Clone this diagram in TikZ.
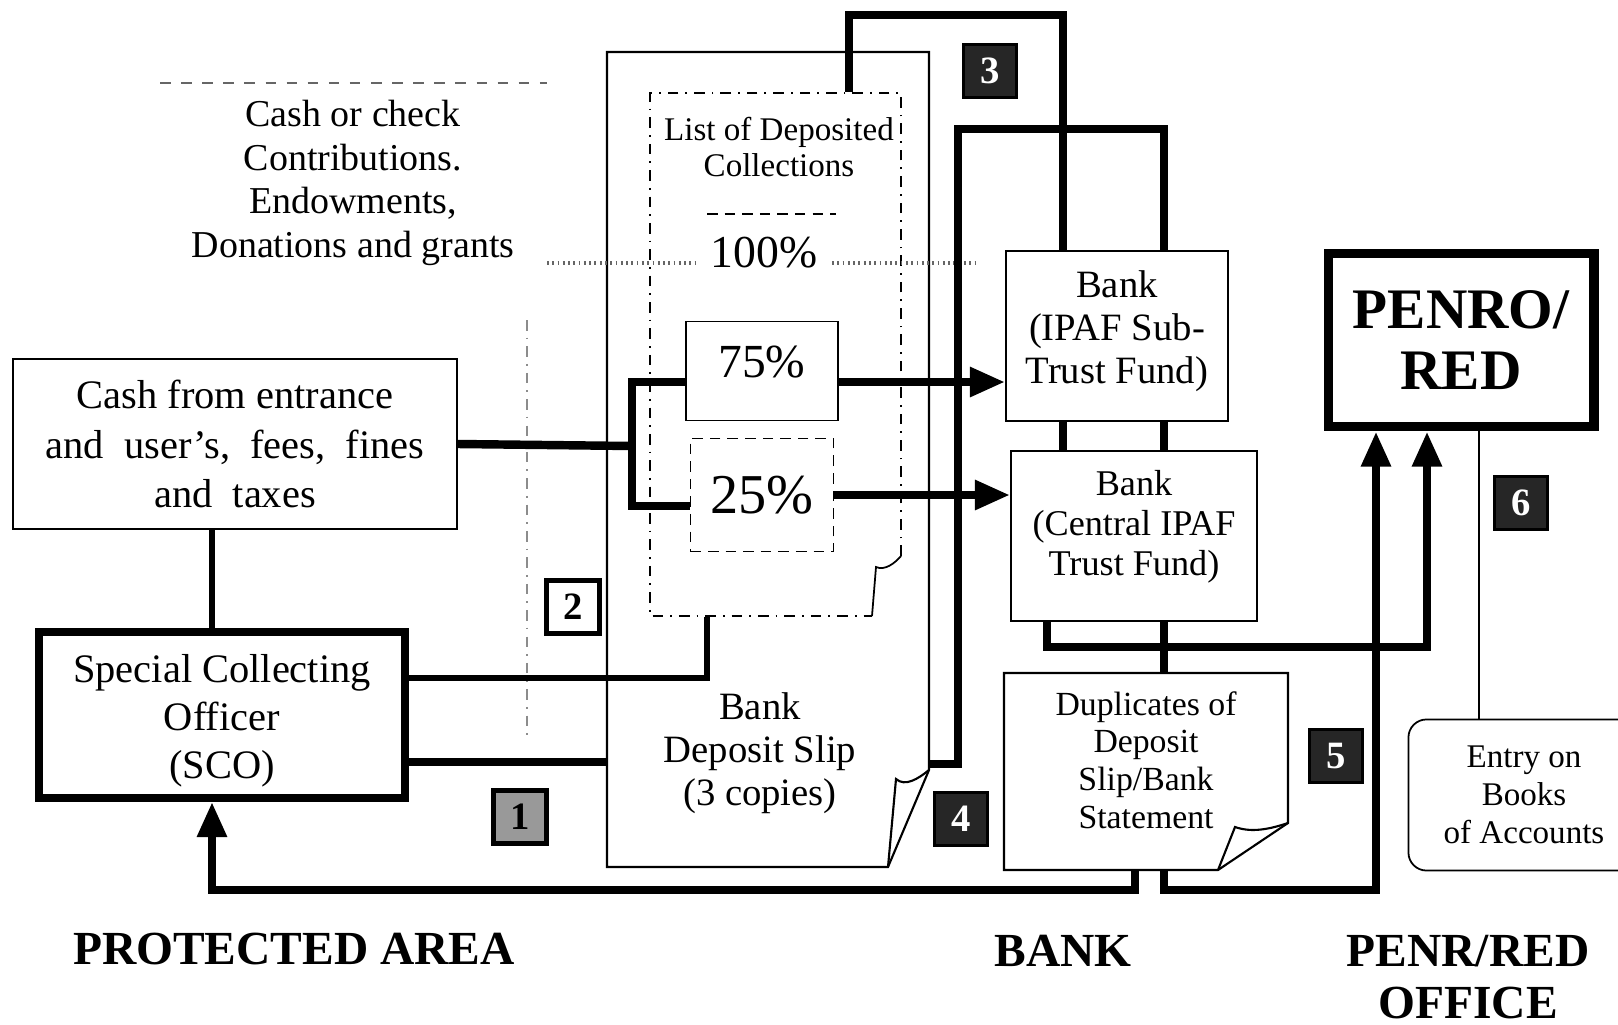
\documentclass[tikz,border=0pt]{standalone}
\usepackage{fontspec}
\setmainfont{Liberation Serif}
\usetikzlibrary{arrows.meta,positioning,calc}

\newcommand{\fsz}[2]{\fontsize{#1}{#2}\selectfont}

\begin{document}
\begin{tikzpicture}[x=0.01cm,y=-0.01cm,
    every node/.style={font=\fsz{11.5}{14}, align=center, inner sep=0pt},
    box/.style={draw, line width=0.5pt},
    heavybox/.style={draw, line width=2.2pt},
    flow/.style={line width=2.4pt},
    midflow/.style={line width=1.6pt},
    flowarrow/.style={flow, -{Triangle[length=10pt,width=8pt]}},
    tracer/.style={black!60, line width=0.5pt},
    badge/.style={draw, line width=1pt, fill=black!85, text=white, minimum size=0.53cm, font=\bfseries\fsz{11}{12}},
    lightbadge/.style={badge, fill=white, text=black, line width=1.4pt},
    midbadge/.style={badge, fill=black!40, text=black, line width=1.4pt},
    caption/.style={font=\bfseries\fsz{13.5}{14.8}}]
    \useasboundingbox (0,0) rectangle (1618,1024);
    \fill[white] (0,0) rectangle (1618,1024);

    \node[font=\fsz{10.8}{12.4}] (donor) at (353,183) {Cash or check\\Contributions.\\Endowments,\\Donations and grants};
    \node[box, minimum width=4.44cm, minimum height=1.70cm] (cash) at (235,444) {Cash from entrance\\and\ \ user's,\ \ fees,\ \ fines\\and\ \ taxes};
    \node[heavybox, minimum width=3.66cm, minimum height=1.66cm] (sco) at (222,715) {};
    \node[font=\fsz{11.5}{13.7}] (scotxt) at (222,721) {Special Collecting\\Officer\\(SCO)};

    \node[minimum width=3.22cm, minimum height=8.15cm] (slip) at (768,459.5) {};
    \node[font=\fsz{11}{12.3}] (sliptxt) at (760,753) {Bank\\Deposit Slip\\(3 copies)};
    \node[minimum width=2.51cm, minimum height=5.23cm] (list) at (775.5,354.5) {};
    \node[font=\fsz{9.4}{10.3}] (listtxt) at (779,147) {List of Deposited\\Collections};
    \node[font=\fsz{13}{14}, inner xsep=4pt] (p100) at (764,253) {100\%};
    \node[box, minimum width=1.52cm, minimum height=0.99cm, font=\fsz{13.5}{14}] (p75) at (762,371) {};
    \node[font=\fsz{13.5}{14}] (p75txt) at (762,362) {75\%};
    \node[box, densely dashed, minimum width=1.43cm, minimum height=1.13cm, font=\fsz{16}{17}] (p25) at (762,495) {25\%};

    \node[box, minimum width=2.22cm, minimum height=1.70cm] (bankSub) at (1117,336) {};
    \node[font=\fsz{11}{12.3}] (bankSubtxt) at (1117,331) {Bank\\(IPAF Sub-\\Trust Fund)};
    \node[box, minimum width=2.46cm, minimum height=1.70cm] (bankCen) at (1134,536) {};
    \node[font=\fsz{10.3}{11.4}] (bankCentxt) at (1134,527) {Bank\\(Central IPAF\\Trust Fund)};
    \node[minimum width=2.86cm, minimum height=1.95cm] (dup) at (1146,771) {};
    \node[font=\fsz{9.6}{10.7}] (duptxt) at (1146,760) {Duplicates of\\Deposit\\Slip/Bank\\Statement};

    \node[draw, line width=2.8pt, minimum width=2.65cm, minimum height=1.73cm, font=\bfseries\fsz{16.3}{17.5}] (penro) at (1461,340) {PENRO/\\RED};
    \node[box, rounded corners=0.18cm, minimum width=2.31cm, minimum height=1.51cm, font=\fsz{9.4}{10.8}] (entry) at (1524,795) {Entry on\\Books\\of Accounts};

    \node[caption] (lblArea) at (294,949) {PROTECTED AREA};
    \node[caption] (lblBank) at (1063,951) {BANK};
    \node[caption] (lblOffice) at (1468,977) {PENR/RED\\OFFICE};

    \draw[line width=0.6pt] (929,770) -- (929,52) -- (607,52) -- (607,867) -- (888,867) -- cycle;
    \draw[line width=0.6pt] (888,867) -- (896,779) .. controls (905,787) and (918,779) .. (929,770);
    \draw[line width=0.5pt, dash dot] (901,556) -- (901,93) -- (650,93) -- (650,616) -- (872,616);
    \draw[line width=0.5pt] (872,616) -- (876,567) .. controls (885,571) and (895,563) .. (901,556);
    \draw[line width=0.5pt, densely dashed] (707,214) -- (836,214);
    \draw[line width=0.6pt] (1288,823) -- (1288,673) -- (1004,673) -- (1004,870) -- (1218,870) -- cycle;
    \draw[line width=0.6pt] (1218,870) -- (1235,827) .. controls (1252,833) and (1270,829) .. (1288,823);

    \draw[tracer, dashed] (160,83) -- (547,83);
    \draw[tracer, dash dot, black!45] (527,320) -- (527,740);
    \coordinate (g0) at (547,263);
    \coordinate (g1) at (975,263);
    \draw[tracer, densely dotted, line width=1pt] (g0) -- (g0 -| p100.west);
    \draw[tracer, densely dotted, line width=1pt] (g1 -| p100.east) -- (g1);

    \coordinate (split) at (632,446);
    \draw[flow] (cash.east) -- (split);
    \draw[flow] ([yshift=-1.1mm]p75.west) -| (split) |- ([yshift=-1.1mm]p25.west);
    \draw[flowarrow] ([yshift=-1.1mm]p75.east) -- ([yshift=-1.1mm]p75.east -| bankSub.west);
    \draw[flowarrow] (p25.east) -- (p25.east -| bankCen.west);

    \coordinate (d0) at (212,890);
    \draw[midflow] (d0 |- cash.south) -- (d0 |- sco.north);
    \coordinate (s1) at (707,678);
    \draw[midflow] (sco.east |- s1) -- (s1) -- (s1 |- list.south);
    \coordinate (s2) at (607,762);
    \draw[flow] (sco.east |- s2) -- (slip.west |- s2);

    \coordinate (t1) at (849,15);
    \coordinate (t2) at (1063,15);
    \draw[flow] (list.north -| t1) -- (t1) -- (t2) -- (t2 |- bankSub.north);
    \coordinate (r1) at (958,764);
    \coordinate (r2) at (958,129);
    \coordinate (r3) at (1164,129);
    \draw[flow] (slip.east |- r1) -- (r1) -- (r2) -- (r3) -- (r3 |- bankSub.north);
    \draw[flow] (t2 |- bankSub.south) -- (t2 |- bankCen.north);
    \draw[flow] (r3 |- bankSub.south) -- (r3 |- bankCen.north);

    \coordinate (m1) at (1047,647);
    \coordinate (m2) at (1164,647);
    \coordinate (m3) at (1427,647);
    \draw[flowarrow] (m1 |- bankCen.south) -- (m1) -- (m3) -- (m3 |- penro.south);
    \draw[flow] (m2 |- bankCen.south) -- (m2 |- dup.north);

    \coordinate (d1) at (1135,890);
    \coordinate (d2) at (1164,890);
    \coordinate (d3) at (1376,890);
    \draw[flowarrow] (d1 |- dup.south) -- (d1) -- (d0) -- (d0 |- sco.south);
    \draw[flowarrow] (d2 |- dup.south) -- (d2) -- (d3) -- (d3 |- penro.south);

    \coordinate (e1) at (1479,600);
    \draw[line width=0.8pt] (e1 |- penro.south) -- (e1 |- entry.north);

    \node[midbadge] (n1) at (520,817) {1};
    \node[lightbadge] (n2) at (573,607) {2};
    \node[badge] (n3) at (990,71) {3};
    \node[badge] (n4) at (961,819) {4};
    \node[badge] (n5) at (1336,756) {5};
    \node[badge] (n6) at (1521,503) {6};
\end{tikzpicture}
\end{document}
